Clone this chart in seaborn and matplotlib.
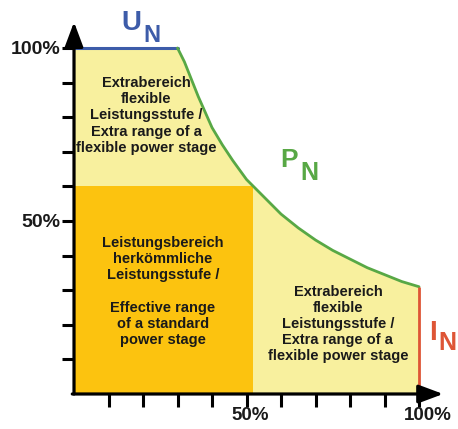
import matplotlib
matplotlib.use("Agg")
import matplotlib.pyplot as plt
from matplotlib.transforms import ScaledTranslation
import seaborn as sns

# power curve P_N (x = current %, y = voltage %)
curve_x = [30, 32, 34, 36, 38, 40, 43, 46, 50, 53, 56, 60, 65, 70, 75,
           80, 85, 90, 95, 100]
curve_y = [100, 96, 91, 86, 81.5, 77, 72, 67.5, 62, 59, 56, 52, 48, 44.5,
           41.5, 39, 36.5, 34.5, 32.5, 31]
# flat U_N part and I_N limit
un_x = [0, 30]
un_y = [100, 100]
in_x = 100
in_y = [0, 31]
# standard power stage box
std_width = 52
std_height = 60

tick_pos = [10, 20, 30, 40, 50, 60, 70, 80, 90, 100]
tick_labels = ['', '', '', '', '50%', '', '', '', '', '100%']

text_extra = "Extrabereich\nflexible\nLeistungsstufe /\nExtra range of a\nflexible power stage"
text_std = ("Leistungsbereich\nherkömmliche\nLeistungsstufe /\n\n"
            "Effective range\nof a standard\npower stage")

BLUE = '#3d5ca9'
GREEN = '#58a845'
RED = '#de5536'
LIGHT = '#f8f09e'
DARK = '#fcc30f'

sns.set_style("white")
plt.rcParams['font.family'] = ['Liberation Sans', 'DejaVu Sans']

fig = plt.figure(figsize=(4.58, 4.29), dpi=100)
ax = fig.add_axes([0.1616, 0.0816, 0.8286, 0.8872])
ax.set_xlim(0, 110)
ax.set_ylim(0, 110)

# light yellow area under U_N / P_N
fill_x = un_x + curve_x
fill_y = un_y + curve_y
ax.fill_between(fill_x, 0, fill_y, color=LIGHT, lw=0, zorder=1)
# standard range box
ax.fill_between([0, std_width], 0, std_height, color=DARK, lw=0, zorder=2)

sns.lineplot(x=un_x, y=un_y, color=BLUE, lw=2.2, ax=ax, zorder=3)
sns.lineplot(x=curve_x, y=curve_y, color=GREEN, lw=2.0, ax=ax, zorder=3)
ax.vlines(in_x, in_y[0], in_y[1], color=RED, lw=2.0, zorder=3)

# axes with arrows
for sp in ax.spines.values():
    sp.set_visible(False)
arrow = dict(arrowstyle='-|>,head_length=0.75,head_width=0.28', lw=2.3,
             color='black', mutation_scale=20, shrinkA=0, shrinkB=0)
ax.annotate('', xy=(0, 107.5), xytext=(0, 0), arrowprops=arrow,
            annotation_clip=False, zorder=5)
ax.annotate('', xy=(107, 0), xytext=(-0.5, 0), arrowprops=arrow,
            annotation_clip=False, zorder=5)

ax.set_xticks(tick_pos)
ax.set_xticklabels(tick_labels)
ax.set_yticks(tick_pos)
ax.set_yticklabels(tick_labels)
ax.tick_params(axis='both', direction='out', length=9, width=2.2,
               color='black', labelsize=14)
ax.tick_params(axis='x', pad=0.5, bottom=True, labelsize=13.5)
ax.tick_params(axis='y', pad=0.5, left=True)
for lab in ax.get_xticklabels() + ax.get_yticklabels():
    lab.set_fontweight('bold')
    lab.set_color('#1a1a1a')
# x labels sit a bit right of their ticks in the reference
xl = ax.get_xticklabels()
xl[4].set_transform(xl[4].get_transform() + ScaledTranslation(0.04, 0, fig.dpi_scale_trans))
xl[9].set_transform(xl[9].get_transform() + ScaledTranslation(0.09, 0, fig.dpi_scale_trans))
ax.grid(False)

# region texts
tkw = dict(ha='center', va='center', fontsize=10.5, fontweight='bold',
           color='#1a1a1a', linespacing=1.2, zorder=6)
ax.text(21, 80.5, text_extra, **tkw)
ax.text(25.8, 29.6, text_std, **tkw)
ax.text(76.5, 20.2, text_extra, **tkw)

# U_N, P_N, I_N labels
lkw = dict(fontweight='bold', ha='left', va='baseline', clip_on=False)
ax.text(13.8, 105.3, 'U', color=BLUE, fontsize=20, **lkw)
ax.text(20.0, 101.8, 'N', color=BLUE, fontsize=17, **lkw)
ax.text(59.8, 65.6, 'P', color=GREEN, fontsize=19, **lkw)
ax.text(65.6, 61.9, 'N', color=GREEN, fontsize=18, **lkw)
ax.text(102.8, 15.6, 'I', color=RED, fontsize=20, **lkw)
ax.text(105.6, 12.7, 'N', color=RED, fontsize=18, **lkw)

fig.savefig('out.png', dpi=100)
